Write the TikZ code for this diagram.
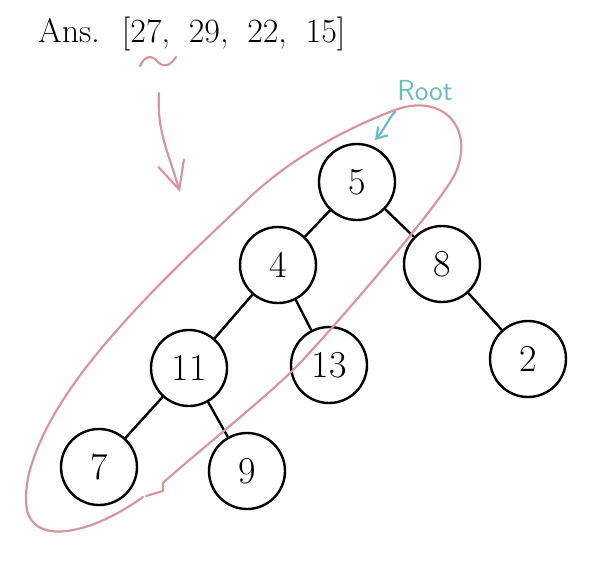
\documentclass[tikz,border=0pt]{standalone}
\usepackage{tikz}
\usetikzlibrary{arrows.meta}
\definecolor{lassopink}{RGB}{214,150,158}
\definecolor{rootteal}{RGB}{108,188,196}

\begin{document}
\begin{tikzpicture}[
    x=1pt, y=-1pt,
    treenode/.style={circle, draw=black, line width=2.4pt, minimum size=76pt, inner sep=0pt, font=\fontsize{38}{38}\selectfont},
    edge/.style={line width=2.4pt},
    lasso/.style={draw=lassopink, line width=2.2pt, line cap=round, line join=round},
    pointer/.style={lasso, -{Straight Barb[length=28pt, width=27pt]}},
    rootarrow/.style={draw=rootteal, line width=2.2pt, line cap=round, -{Straight Barb[length=10pt, width=13pt]}}
]
    \useasboundingbox (0,0) rectangle (603,568);

    % Answer line
    \node[anchor=base west, inner sep=0pt, font={\fontsize{34}{34}\selectfont}] (ans) at (38,42) {\spaceskip=0.55em Ans. [27, 29, 22, 15]};

    % Tree
    \node[treenode] (root) at (357,182) {5};
    \node[treenode] (l) at (278,265) {4};
    \node[treenode] (r) at (442,264) {8};
    \node[treenode] (ll) at (189,368) {11};
    \node[treenode] (lr) at (329,365) {13};
    \node[treenode] (rr) at (528,359) {2};
    \node[treenode] (lll) at (99,467) {7};
    \node[treenode] (llr) at (247,471) {9};

    \draw[edge] (root) -- (l);
    \draw[edge] (root) -- (r);
    \draw[edge] (l) -- (ll);
    \draw[edge] (l) -- (lr);
    \draw[edge] (r) -- (rr);
    \draw[edge] (ll) -- (lll);
    \draw[edge] (ll) -- (llr);

    % Root label
    \node[text=rootteal, font=\sffamily\fontsize{29}{29}\selectfont] (rootlbl) at (425,91) {Root};
    \coordinate (rootfrom) at (395,112);
    \coordinate (rootto) at (375,140);
    \draw[rootarrow] (rootfrom) .. controls (390,116) and (384,130) .. (rootto);

    % Path marked on the tree
    \draw[lasso] (140,66) .. controls (145,55) and (152,55) .. (158,62) .. controls (164,68) and (170,66) .. (176,57);
    \coordinate (wave) at (159,93);
    \coordinate (wavetip) at (180,192);
    \draw[pointer] (wave) .. controls (157,130) and (166,146) .. (wavetip);
    \draw[lasso] (143,497) .. controls (90,535) and (35,545) .. (27,510)
        .. controls (20,470) and (50,410) .. (100,350)
        .. controls (150,290) and (200,245) .. (250,197)
        .. controls (295,155) and (350,127) .. (395,110)
        .. controls (440,93) and (475,125) .. (456,172)
        .. controls (445,198) and (345,315) .. (300,363)
        .. controls (273,392) and (183,464) .. (163,483)
        -- (163,491) -- (146,496);
\end{tikzpicture}
\end{document}
